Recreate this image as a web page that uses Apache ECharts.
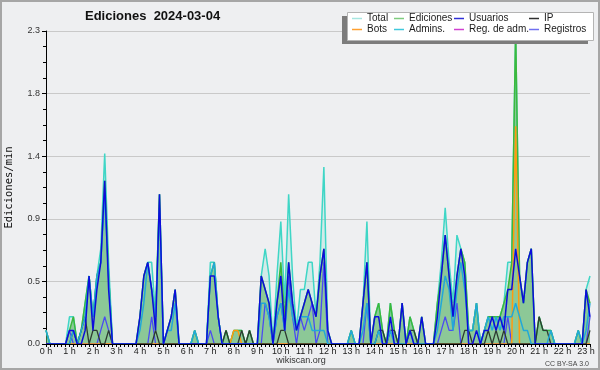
<!DOCTYPE html>
<html>
<head>
<meta charset="utf-8">
<script src="https://cdn.jsdelivr.net/npm/echarts@6/dist/echarts.min.js"></script>
<style>
html,body{margin:0;padding:0;background:#eeeff1;}
#chart{width:600px;height:370px;}
</style>
</head>
<body>
<div id="chart"></div>
<script>
// ---- tick labels ----
const hourLabels = ['0 h','1 h','2 h','3 h','4 h','5 h','6 h','7 h','8 h','9 h','10 h','11 h',
  '12 h','13 h','14 h','15 h','16 h','17 h','18 h','19 h','20 h','21 h','22 h','23 h'];
const yTickValues = [0.0, 0.5, 0.9, 1.4, 1.8, 2.3];

// ---- series values (edits per minute, 10-minute bins, 00:00 .. 23:10) ----
const total = [
  .1,0,0,0,0,0,   .2,.2,0,.1,.3,.5,   .2,.5,.7,1.4,.6,0,  0,0,0,0,0,0,
  .2,.5,.6,.6,.2,1.1, 0,.1,.2,.4,0,0,  0,0,.1,0,0,0,     .6,.6,.2,0,.1,0,
  .1,.1,.1,0,.1,0,  0,.5,.7,.5,0,.5,  .9,.3,1.1,.5,.1,.4, .4,.6,.6,.2,.6,1.3,
  .1,0,0,0,0,0,     .1,0,0,.3,.9,0,   .2,.3,.1,0,.3,.1,  0,.3,0,.2,.1,0,
  .2,0,0,0,.3,.6,   1.0,.6,.3,.8,.7,.6, .1,.1,.3,0,.1,.2, .2,.2,.2,.3,.6,.6,
  2.3,.5,.3,.6,.7,0, .2,.1,.1,.1,0,0,  0,0,0,0,.1,0,     .4,.5
];
const ediciones = [
  .1,0,0,0,0,0,   .1,.2,0,.1,.3,.5,   .2,.5,.6,1.2,.5,0,  0,0,0,0,0,0,
  .2,.5,.6,.4,.2,1.1, 0,.1,.2,.4,0,0,  0,0,.1,0,0,0,     .5,.6,.2,0,.1,0,
  .1,.1,.1,0,.1,0,  0,.5,.4,.3,0,.3,  .6,.2,.6,.3,.1,.2, .3,.4,.3,.2,.5,.7,
  .1,0,0,0,0,0,     .1,0,0,.3,.6,0,   .2,.3,.1,0,.3,.1,  0,.3,0,.2,.1,0,
  .2,0,0,0,.3,.5,   .8,.5,.2,.5,.7,.6, .1,.1,.3,0,.1,.2, .2,.2,.2,.3,.4,.6,
  2.3,.5,.3,.6,.7,0, .2,.1,.1,.1,0,0,  0,0,0,0,.1,0,     .4,.3
];
const usuarios = [
  0,0,0,0,0,0,      .1,.1,0,0,.1,.5,    .1,.4,.6,1.2,.4,0,  0,0,0,0,0,0,
  .2,.5,.6,.4,.1,1.1, 0,.1,.2,.4,0,0,  0,0,0,0,0,0,       .5,.5,.2,0,0,0,
  0,0,0,0,0,0,      0,.5,.4,.3,0,.3,  .5,.1,.6,.3,.1,.2, .3,.4,.3,.2,.5,.7,
  .1,0,0,0,0,0,     0,0,0,.3,.6,0,    .2,.2,0,0,.2,0,    0,.3,0,.1,0,0,
  .2,0,0,0,.2,.5,   .8,.5,.2,.5,.7,.5, 0,0,.1,0,.1,.1,   .2,.1,.2,.1,.4,.4,
  .7,.5,.3,.6,.7,0, 0,0,0,0,0,0,      0,0,0,0,0,0,       .4,.2
];
const ip = [
  0,0,0,0,0,0,      0,.1,0,.1,.2,0,     .1,.1,0,0,.1,0,     0,0,0,0,0,0,
  0,0,0,0,.1,0,     0,0,0,0,0,0,        0,0,0,0,0,0,        0,0,0,0,.1,0,
  0,0,.1,0,.1,0,    0,0,0,0,0,0,        .1,.1,0,0,0,0,      0,0,0,0,0,0,
  0,0,0,0,0,0,      0,0,0,0,0,0,        0,.1,.1,0,.1,.1,    0,0,0,.1,.1,0,
  0,0,0,0,0,0,      0,0,0,0,0,.1,       .1,0,0,0,0,.1,      0,.1,0,.1,0,0,
  0,0,0,0,0,0,      .2,.1,.1,0,0,0,     0,0,0,0,0,0,        0,.1
];
const bots = [
  0,0,0,0,0,0,  0,0,0,0,0,0,  0,0,0,0,0,0,  0,0,0,0,0,0,
  0,0,0,0,0,0,  0,0,0,0,0,0,  0,0,0,0,0,0,  0,0,0,0,0,0,
  .1,.1,0,0,0,0, 0,0,0,0,0,0, 0,0,0,0,0,0,  0,0,0,0,0,0,
  0,0,0,0,0,0,  0,0,0,0,0,0,  0,0,0,0,0,0,  0,0,0,0,0,0,
  0,0,0,0,0,0,  0,0,0,0,0,0,  0,0,0,0,0,0,  0,0,0,0,0,0,
  1.6,0,0,0,0,0, 0,0,0,0,0,0, 0,0,0,0,0,0,  0,0
];
const admins = [
  .1,0,0,0,0,0,     0,.1,0,.1,.2,.5,    .2,.5,.6,1.1,.5,0,  0,0,0,0,0,0,
  .1,.3,.6,.4,.2,1.0, 0,.1,.1,.3,0,0,  0,0,.1,0,0,0,      .5,.6,.2,0,0,0,
  0,0,0,0,0,0,      0,.3,.3,.2,0,.2,    .3,.1,.4,.2,.1,.2,  .2,.2,.1,.1,.1,.1,
  0,0,0,0,0,0,      .1,0,0,.1,.3,0,     0,.1,0,0,.1,0,      0,0,0,.1,0,0,
  0,0,0,0,.1,.3,    .5,.4,.1,.4,.6,.4,  .1,.1,.3,0,.1,.2,   .1,.2,.1,.2,.2,.2,
  .3,.2,.1,.1,0,0,  0,0,0,.1,0,0,       0,0,0,0,.1,0,       .1,.3
];
const regAdm = [
  0,0,0,0,0,0,  0,0,0,0,0,0,  0,0,0,0,0,0,  0,0,0,0,0,0,
  0,0,0,0,0,0,  0,0,0,0,0,0,  0,0,0,0,0,0,  0,0,0,0,0,0,
  0,0,0,0,0,0,  0,0,0,0,0,0,  0,0,0,0,0,0,  0,0,0,0,0,0,
  0,0,0,0,0,0,  0,0,0,0,0,0,  0,0,0,0,0,0,  0,0,0,0,0,0,
  0,0,0,0,0,0,  0,0,0,0,0,0,  0,0,0,0,0,0,  0,0,0,0,0,0,
  0,0,0,0,0,0,  0,0,0,0,0,0,  0,0,0,0,0,0,  0,0
];
const registros = [
  0,0,0,0,0,0,      .1,0,0,0,0,0,       0,0,.1,.2,.1,0,     0,0,0,0,0,0,
  0,0,0,.2,0,0,     0,0,0,0,0,0,        0,0,0,0,0,0,        .1,0,0,0,0,0,
  0,0,0,0,0,0,      0,0,.3,.2,0,.2,     .3,.1,.5,.2,0,.2,   .1,.2,.3,0,.1,.6,
  0,0,0,0,0,0,      0,0,0,0,.3,0,       0,0,0,0,0,0,        0,0,0,0,0,0,
  0,0,0,0,0,.1,     .2,.1,.1,.3,0,0,    0,0,0,0,0,0,        0,0,0,0,.2,0,
  0,0,0,0,0,0,      0,0,0,0,0,0,        0,0,0,0,0,0,        0,.2
];

// category axis: one slot per 10-minute bin
const binCount = total.length;
const categories = [];
for (let i = 0; i < binCount; i++) {
  const h = Math.floor(i / 6), m = (i % 6) * 10;
  categories.push(String(h).padStart(2, '0') + ':' + String(m).padStart(2, '0'));
}

const FONT = 'Liberation Sans';
const chart = echarts.init(document.getElementById('chart'), null, {renderer: 'canvas'});

function lineSeries(name, data, color, width, area) {
  const s = {
    name: name, type: 'line', data: data, showSymbol: false, symbol: 'none',
    animation: false, smooth: false,
    lineStyle: {color: color, width: width},
    itemStyle: {color: color},
    emphasis: {disabled: true}
  };
  if (area) s.areaStyle = {color: area, opacity: 1};
  return s;
}

const colCfg = {'Total':1,'Bots':1,'Ediciones':2,'Admins.':2,'Usuarios':3,'Reg. de adm.':3,'IP':4,'Registros':4};
const legendColors = {
  'Total':'#a6e6e0','Ediciones':'#7fcc7f','Usuarios':'#3030d8','IP':'#303030',
  'Bots':'#ffa030','Admins.':'#40c8dc','Reg. de adm.':'#d040d0','Registros':'#7070f0'
};
const legendOrder = ['Total','Ediciones','Usuarios','IP','Bots','Admins.','Reg. de adm.','Registros'];
const richBase = {fontFamily: FONT, fontSize: 10, lineHeight: 11, color: '#1a1a1a'};

const option = {
  backgroundColor: '#eeeff1',
  animation: false,
  title: {
    text: 'Ediciones  2024-03-04', left: 85, top: 10, padding: 0,
    textStyle: {fontFamily: FONT, fontSize: 13, fontWeight: 'bold', color: '#111'}
  },
  grid: {left: 46, right: 10, top: 31, bottom: 26, containLabel: false, outerBoundsMode: 'none'},
  legend: {
    left: 347, top: 12, width: 250, padding: [1, 5, 4, 5], itemGap: 0,
    itemWidth: 10, itemHeight: 1.5, icon: 'rect', z: 20,
    selectedMode: false,
    data: legendOrder.map(n => ({name: n, itemStyle: {color: legendColors[n], borderWidth: 0}})),
    formatter: n => '{c' + colCfg[n] + '|' + n + '}',
    textStyle: Object.assign({}, richBase, {
      rich: {
        c1: Object.assign({width: 27}, richBase),
        c2: Object.assign({width: 45}, richBase),
        c3: Object.assign({width: 60}, richBase),
        c4: Object.assign({width: 45}, richBase)
      }
    })
  },
  graphic: [
    {type: 'rect', z: 15, shape: {x: 342, y: 16, width: 246, height: 28}, style: {fill: '#7c7c7c'}},
    {type: 'rect', z: 16, shape: {x: 347.5, y: 12.5, width: 246, height: 28}, style: {fill: '#ffffff', stroke: '#b4b4b4', lineWidth: 1}},
    {type: 'text', z: 16, style: {text: 'wikiscan.org', x: 301, y: 361, align: 'center', verticalAlign: 'middle', font: '9px "Liberation Sans"', fill: '#333'}},
    {type: 'text', z: 16, style: {text: 'CC BY-SA 3.0', x: 589, y: 364, align: 'right', verticalAlign: 'middle', font: '7px "Liberation Sans"', fill: '#444'}},
    {type: 'rect', z: 30, shape: {x: 1, y: 1, width: 598, height: 368}, style: {fill: 'none', stroke: '#a6a6a6', lineWidth: 2}}
  ],
  xAxis: {
    type: 'category', data: categories, boundaryGap: false, z: 10,
    axisLine: {show: true, lineStyle: {color: '#000', width: 1}},
    axisTick: {show: true, interval: 0, length: 3, lineStyle: {color: '#000', width: 1}},
    axisLabel: {
      interval: 5, margin: 3, fontFamily: FONT, fontSize: 9, color: '#222',
      formatter: (v, i) => (i % 6 === 0 ? hourLabels[i / 6] : '')
    },
    splitLine: {show: false}
  },
  yAxis: {
    type: 'value', min: 0, max: 2.3, interval: 0.46,
    name: 'Ediciones/min', nameLocation: 'middle', nameRotate: 90, nameGap: 31,
    nameTextStyle: {fontFamily: 'DejaVu Sans Mono', fontSize: 10.5, color: '#111'},
    axisLine: {show: true, lineStyle: {color: '#000', width: 1}},
    axisTick: {show: true, length: 4, lineStyle: {color: '#000'}},
    minorTick: {show: true, splitNumber: 4, length: 3, lineStyle: {color: '#000'}},
    axisLabel: {
      margin: 6, fontFamily: FONT, fontSize: 9, color: '#333',
      formatter: v => yTickValues[Math.round(v / 0.46)].toFixed(1)
    },
    splitLine: {show: true, lineStyle: {color: '#c9c9c9', width: 1}}
  },
  series: [
    lineSeries('Total', total, '#3fd6c6', 1.5, 'rgba(120,220,200,0.22)'),
    lineSeries('Ediciones', ediciones, '#3cb83c', 1.5, 'rgba(70,165,70,0.5)'),
    lineSeries('Reg. de adm.', regAdm, '#d030d0', 1.2, null),
    lineSeries('Registros', registros, '#4b4bf2', 1.3, null),
    lineSeries('Bots', bots, '#ff9a10', 1.5, null),
    lineSeries('IP', ip, '#2e3a31', 1.3, null),
    lineSeries('Admins.', admins, '#22a8d8', 1.5, null),
    lineSeries('Usuarios', usuarios, '#0c0cdc', 1.5, null)
  ]
};
chart.setOption(option);
</script>
</body>
</html>
